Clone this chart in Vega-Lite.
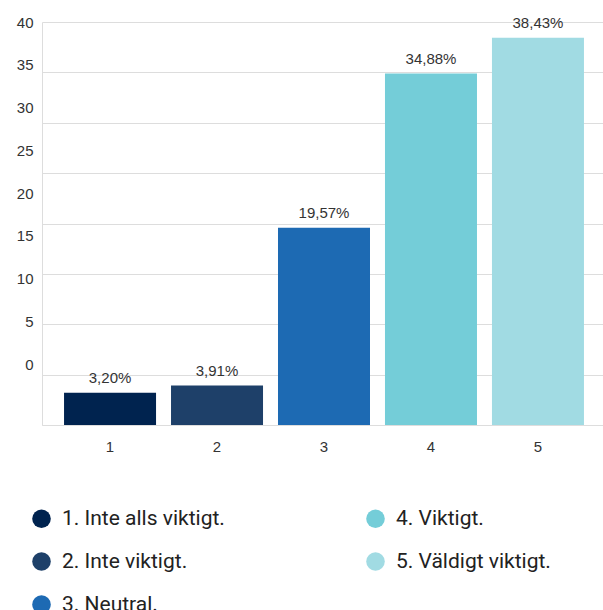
{
  "$schema": "https://vega.github.io/schema/vega-lite/v6.json",
  "width": 564,
  "height": 403,
  "autosize": {"type": "none"},
  "padding": {"left": 42, "top": 22, "right": 0, "bottom": 185},
  "background": "white",
  "config": {
    "view": {"stroke": null},
    "font": "Liberation Sans"
  },
  "data": {
    "values": [
      {"x": "1", "value": 3.20, "label": "3,20%", "cat": "1. Inte alls viktigt."},
      {"x": "2", "value": 3.91, "label": "3,91%", "cat": "2. Inte viktigt."},
      {"x": "3", "value": 19.57, "label": "19,57%", "cat": "3. Neutral."},
      {"x": "4", "value": 34.88, "label": "34,88%", "cat": "4. Viktigt."},
      {"x": "5", "value": 38.43, "label": "38,43%", "cat": "5. Väldigt viktigt."}
    ]
  },
  "encoding": {
    "x": {
      "field": "x",
      "type": "ordinal",
      "scale": {"paddingInner": 0.14, "paddingOuter": 0.206},
      "axis": {
        "title": null,
        "labelAngle": 0,
        "ticks": false,
        "domain": true,
        "domainColor": "#dddddd",
        "labelFontSize": 15,
        "labelColor": "#333333",
        "labelPadding": 14,
        "labelFont": "Liberation Sans"
      }
    }
  },
  "layer": [
    {
      "mark": {"type": "bar"},
      "encoding": {
        "y": {
          "field": "value",
          "type": "quantitative",
          "scale": {"domain": [0, 40], "nice": false},
          "axis": {
            "title": null,
            "values": [0, 5, 10, 15, 20, 25, 30, 35, 40],
            "labels": false,
            "ticks": false,
            "domain": true,
            "domainColor": "#dddddd",
            "grid": true,
            "gridColor": "#dddddd"
          }
        },
        "color": {
          "field": "cat",
          "type": "nominal",
          "scale": {
            "domain": ["1. Inte alls viktigt.", "2. Inte viktigt.", "3. Neutral.", "4. Viktigt.", "5. Väldigt viktigt."],
            "range": ["#00234f", "#1e4069", "#1d6ab3", "#74cdd8", "#a1dbe3"]
          },
          "legend": {
            "title": null,
            "orient": "none",
            "legendX": -11,
            "legendY": 486,
            "columns": 2,
            "columnPadding": 140,
            "rowPadding": 21,
            "symbolType": "circle",
            "symbolSize": 346,
            "symbolStrokeWidth": 0,
            "labelFontSize": 21,
            "labelFont": "Roboto",
            "labelColor": "#222222",
            "labelOffset": 10,
            "labelLimit": 300
          }
        }
      }
    },
    {
      "mark": {"type": "text", "baseline": "middle", "dy": -15, "fontSize": 15, "color": "#333333", "font": "Liberation Sans"},
      "encoding": {
        "y": {"field": "value", "type": "quantitative"},
        "text": {"field": "label"}
      }
    },
    {
      "mark": {"type": "tick", "opacity": 0},
      "encoding": {
        "y": {
          "field": "value",
          "type": "quantitative",
          "scale": {"domain": [-7.1, 40], "nice": false},
          "axis": {
            "orient": "left",
            "title": null,
            "values": [0, 5, 10, 15, 20, 25, 30, 35, 40],
            "grid": false,
            "ticks": false,
            "domain": false,
            "labelFontSize": 15,
            "labelColor": "#333333",
            "labelPadding": 9,
            "labelFont": "Liberation Sans"
          }
        }
      }
    }
  ],
  "resolve": {"scale": {"y": "independent"}}
}
